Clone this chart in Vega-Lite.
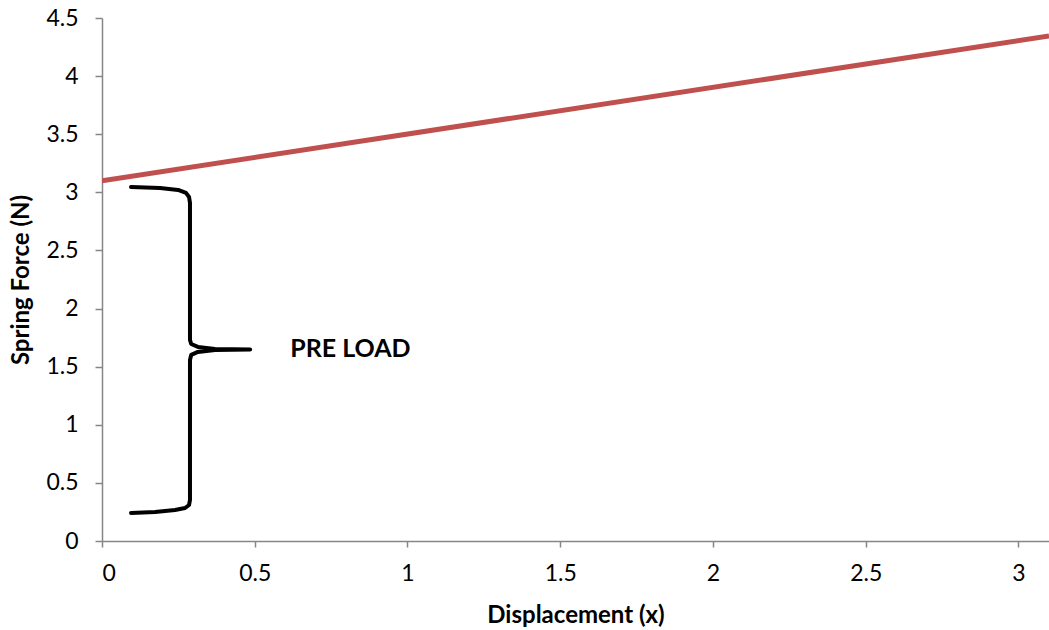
{
  "$schema": "https://vega.github.io/schema/vega-lite/v6.json",
  "autosize": {"type": "none"},
  "width": 947,
  "height": 523,
  "padding": {"left": 102, "top": 18, "right": 0, "bottom": 89},
  "background": "white",
  "config": {
    "view": {"stroke": null},
    "font": "Lato",
    "axis": {
      "grid": false,
      "domainColor": "#868686",
      "tickColor": "#868686",
      "domainWidth": 1.5,
      "tickWidth": 1.5,
      "labelColor": "#000000",
      "labelFont": "Lato",
      "titleColor": "#000000",
      "titleFontSize": 24,
      "titleFont": "Lato",
      "titleFontWeight": "bold"
    }
  },
  "datasets": {
    "force": [
      {"x": 0, "y": 3.1},
      {"x": 3.1, "y": 4.345}
    ],
    "brace": [
      {"o": 1, "x": 0.095, "y": 3.046},
      {"o": 2, "x": 0.19, "y": 3.038},
      {"o": 3, "x": 0.249, "y": 3.021},
      {"o": 4, "x": 0.275, "y": 2.995},
      {"o": 5, "x": 0.285, "y": 2.96},
      {"o": 6, "x": 0.288, "y": 2.909},
      {"o": 7, "x": 0.288, "y": 1.73},
      {"o": 8, "x": 0.292, "y": 1.695},
      {"o": 9, "x": 0.314, "y": 1.67},
      {"o": 10, "x": 0.37, "y": 1.652},
      {"o": 11, "x": 0.485, "y": 1.648},
      {"o": 12, "x": 0.37, "y": 1.644},
      {"o": 13, "x": 0.314, "y": 1.627},
      {"o": 14, "x": 0.292, "y": 1.601},
      {"o": 15, "x": 0.288, "y": 1.558},
      {"o": 16, "x": 0.288, "y": 0.353},
      {"o": 17, "x": 0.285, "y": 0.31},
      {"o": 18, "x": 0.272, "y": 0.284},
      {"o": 19, "x": 0.239, "y": 0.267},
      {"o": 20, "x": 0.174, "y": 0.25},
      {"o": 21, "x": 0.095, "y": 0.241}
    ],
    "label": [
      {"x": 0.616, "y": 1.648, "text": "PRE LOAD"}
    ]
  },
  "layer": [
    {
      "data": {"name": "force"},
      "mark": {"type": "line", "color": "#C0504D", "strokeWidth": 5, "clip": true},
      "encoding": {
        "x": {
          "field": "x", "type": "quantitative",
          "scale": {"domain": [0, 3.1], "nice": false, "zero": true},
          "axis": {
            "title": "Displacement (x)",
            "values": [0, 0.5, 1, 1.5, 2, 2.5, 3],
            "format": ".1~f",
            "labelFontSize": 23,
            "tickSize": 6,
            "labelPadding": 15,
            "titlePadding": 18
          }
        },
        "y": {
          "field": "y", "type": "quantitative",
          "scale": {"domain": [0, 4.5], "nice": false},
          "axis": {
            "title": "Spring Force (N)",
            "values": [0, 0.5, 1, 1.5, 2, 2.5, 3, 3.5, 4, 4.5],
            "format": ".1~f",
            "labelFontSize": 23,
            "tickSize": 7,
            "labelPadding": 17,
            "titlePadding": 12
          }
        }
      }
    },
    {
      "data": {"name": "brace"},
      "mark": {"type": "line", "color": "#000000", "strokeWidth": 4, "strokeJoin": "round", "strokeCap": "round", "interpolate": "linear"},
      "encoding": {
        "x": {"field": "x", "type": "quantitative"},
        "y": {"field": "y", "type": "quantitative"},
        "order": {"field": "o", "type": "quantitative"}
      }
    },
    {
      "data": {"name": "label"},
      "mark": {"type": "text", "align": "left", "baseline": "middle", "fontSize": 25, "fontWeight": "bold", "font": "Lato", "color": "#000000"},
      "encoding": {
        "x": {"field": "x", "type": "quantitative"},
        "y": {"field": "y", "type": "quantitative"},
        "text": {"field": "text"}
      }
    }
  ]
}
